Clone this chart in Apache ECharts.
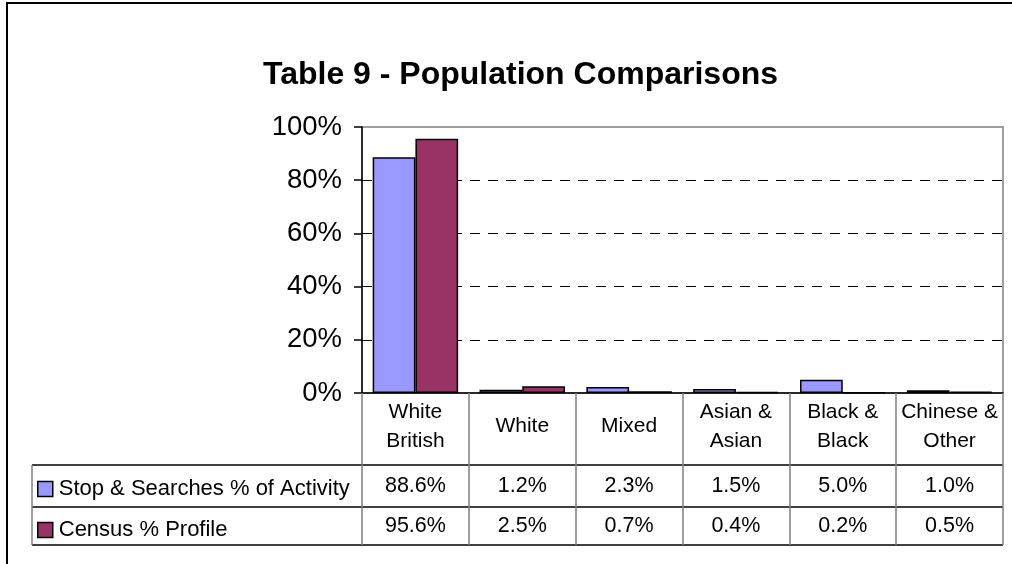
<!DOCTYPE html>
<html>
<head>
<meta charset="utf-8">
<script src="https://cdn.jsdelivr.net/npm/echarts@6/dist/echarts.min.js"></script>
<style>
  html, body { margin: 0; padding: 0; background: #fff; }
  #chart { width: 1012px; height: 564px; }
</style>
</head>
<body>
<div id="chart"></div>
<script>
// category labels as printed in the table header
var categories = ['White\nBritish', 'White', 'Mixed', 'Asian &\nAsian', 'Black &\nBlack', 'Chinese &\nOther'];
var seriesNames = ['Stop & Searches % of Activity', 'Census % Profile'];
var stopSearch = [88.6, 1.2, 2.3, 1.5, 5.0, 1.0];
var census = [95.6, 2.5, 0.7, 0.4, 0.2, 0.5];
var yTicks = [0, 20, 40, 60, 80, 100];

var FONT = '"Liberation Sans", Arial, sans-serif';
// plot area (px)
var plotLeft = 362, plotRight = 1003, plotTop = 127, plotBottom = 393;
// data table rows below the axis
var tableLeft = 32, row1Top = 465, row2Top = 507, tableBottom = 545;

var chart = echarts.init(document.getElementById('chart'));

function pct(v) { return v.toFixed(1) + '%'; }

var option = {
  backgroundColor: '#fff',
  animation: false,
  title: {
    text: 'Table 9 - Population Comparisons',
    left: 258,
    top: 54,
    textStyle: { fontFamily: FONT, fontSize: 32, fontWeight: 'bold', color: '#000' }
  },
  legend: {
    orient: 'vertical',
    left: 37,
    top: 478,
    padding: 0,
    itemWidth: 15,
    itemHeight: 15,
    itemGap: 19,
    icon: 'rect',
    data: seriesNames,
    textStyle: { fontFamily: FONT, fontSize: 22, color: '#000', padding: [0, 0, 0, 1] },
    itemStyle: { borderColor: '#000', borderWidth: 1.5 }
  },
  grid: {
    left: plotLeft,
    right: 1012 - plotRight,
    top: plotTop,
    bottom: 564 - plotBottom,
    show: true,
    borderColor: '#808080',
    borderWidth: 1.5,
    containLabel: false
  },
  xAxis: {
    type: 'category',
    data: categories,
    axisLine: { lineStyle: { color: '#000', width: 1.5 } },
    axisTick: { show: true, length: tableBottom - plotBottom, lineStyle: { color: '#808080', width: 1.5 } },
    axisLabel: {
      interval: 0,
      margin: 4.5,
      color: '#000',
      fontFamily: FONT,
      formatter: function (value, idx) {
        var lines = value.split('\n');
        var head = lines.length > 1
          ? lines.map(function (l) { return '{c1|' + l + '}'; }).join('\n')
          : '{c0|' + value + '}';
        return head + '\n{v1|' + pct(stopSearch[idx]) + '}\n{v2|' + pct(census[idx]) + '}';
      },
      rich: {
        c0: { fontFamily: FONT, fontSize: 21, lineHeight: 58, color: '#000' },
        c1: { fontFamily: FONT, fontSize: 21, lineHeight: 29, color: '#000' },
        v1: { fontFamily: FONT, fontSize: 21.5, lineHeight: 61, color: '#000' },
        v2: { fontFamily: FONT, fontSize: 21.5, lineHeight: 19, color: '#000' }
      }
    }
  },
  yAxis: {
    type: 'value',
    min: yTicks[0],
    max: yTicks[yTicks.length - 1],
    interval: yTicks[1] - yTicks[0],
    axisLine: { show: true, lineStyle: { color: '#000', width: 1.5 } },
    axisTick: { show: true, length: 8, lineStyle: { color: '#000', width: 1.5 } },
    axisLabel: {
      margin: 20,
      color: '#000',
      fontFamily: FONT,
      fontSize: 27.5,
      formatter: '{value}%'
    },
    splitLine: {
      show: true,
      showMinLine: false,
      showMaxLine: false,
      lineStyle: { color: '#000', type: [10, 8], width: 1 }
    }
  },
  series: [
    {
      name: seriesNames[0],
      type: 'bar',
      data: stopSearch,
      barGap: '0%',
      barCategoryGap: '20%',
      itemStyle: { color: '#9999FF', borderColor: '#000', borderWidth: 1.5 }
    },
    {
      name: seriesNames[1],
      type: 'bar',
      data: census,
      itemStyle: { color: '#993366', borderColor: '#000', borderWidth: 1.5 }
    }
  ],
  graphic: [
    // outer chart frame (left and top edges visible)
    { type: 'polyline', silent: true, shape: { points: [[7, 600], [7, 3], [1020, 3]] },
      style: { stroke: '#000', lineWidth: 2, fill: null } },
    // data table rules
    { type: 'line', silent: true, shape: { x1: tableLeft, y1: row1Top, x2: plotRight, y2: row1Top },
      style: { stroke: '#000', lineWidth: 1.5 } },
    { type: 'line', silent: true, shape: { x1: tableLeft, y1: row2Top, x2: plotRight, y2: row2Top },
      style: { stroke: '#000', lineWidth: 1.5 } },
    { type: 'line', silent: true, shape: { x1: tableLeft, y1: tableBottom, x2: plotRight, y2: tableBottom },
      style: { stroke: '#000', lineWidth: 1.5 } },
    { type: 'line', silent: true, shape: { x1: tableLeft, y1: row1Top, x2: tableLeft, y2: tableBottom },
      style: { stroke: '#808080', lineWidth: 1.5 } }
  ]
};

chart.setOption(option);
</script>
</body>
</html>
